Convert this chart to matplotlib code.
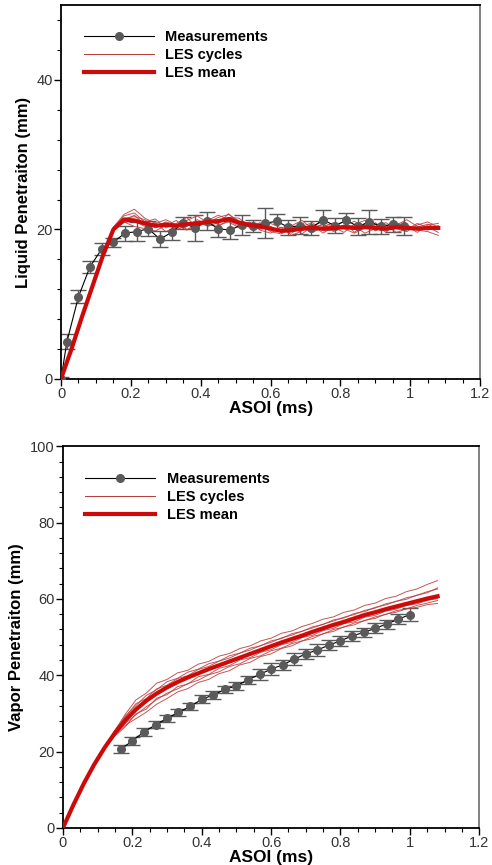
import numpy as np
import matplotlib
matplotlib.use("Agg")
import matplotlib.pyplot as plt
from matplotlib.ticker import MultipleLocator

plt.rcParams["font.family"] = ["Liberation Sans", "DejaVu Sans"]

# ---- liquid penetration (top) ----
liq_x = [0, 0.017, 0.05, 0.083, 0.117, 0.15, 0.183, 0.217, 0.25, 0.283, 0.317,
         0.35, 0.383, 0.417, 0.45, 0.483, 0.517, 0.55, 0.583, 0.617, 0.65,
         0.683, 0.717, 0.75, 0.783, 0.817, 0.85, 0.883, 0.917, 0.95, 0.983]
liq_y = [0, 5.0, 11.0, 15.0, 17.4, 18.3, 19.5, 19.7, 20.1, 18.7, 19.6,
         20.9, 20.2, 21.1, 20.1, 19.9, 20.6, 20.4, 20.8, 21.1, 20.3,
         20.5, 20.2, 21.3, 20.5, 21.2, 20.4, 21.0, 20.4, 20.7, 20.5]
liq_err = [0.3, 1.0, 0.9, 0.8, 0.8, 0.6, 1.0, 1.3, 1.0, 1.1, 1.0,
           0.8, 1.7, 1.2, 1.1, 1.2, 1.3, 0.8, 2.0, 1.0, 1.0,
           1.1, 0.9, 1.3, 1.0, 1.0, 1.1, 1.6, 1.0, 1.0, 1.2]

les_t = [0, .03, .06, .09, .12, .15, .18, .21, .24, .27, .30, .33, .36, .39,
         .42, .45, .48, .51, .54, .57, .60, .63, .66, .69, .72, .75, .78, .81,
         .84, .87, .90, .93, .96, .99, 1.02, 1.05, 1.08]

liq_mean = [0, 4.0, 8.3, 12.4, 16.5, 20.0, 21.3, 21.2, 20.8, 20.5, 20.6, 20.5, 20.7,
            20.8, 21.0, 21.1, 21.4, 20.9, 20.6, 20.4, 20.1, 19.8, 19.9, 20.1, 20.2,
            20.1, 20.2, 20.3, 20.2, 20.3, 20.2, 20.1, 20.3, 20.2, 20.1, 20.2, 20.2]
liq_c1 = [0, 4.1, 8.4, 12.5, 16.7, 20.3, 22.0, 22.7, 21.5, 20.8, 21.3, 20.6, 21.2,
          21.8, 20.9, 21.6, 22.0, 21.1, 20.3, 20.9, 20.4, 19.6, 20.5, 21.2, 20.0,
          20.8, 19.7, 20.4, 21.1, 20.2, 20.9, 19.8, 20.6, 21.3, 20.4, 19.9, 20.5]
liq_c2 = [0, 3.9, 8.1, 12.2, 16.3, 19.8, 21.0, 20.4, 20.1, 19.8, 20.5, 21.2, 20.0,
          20.4, 21.5, 20.6, 21.0, 20.2, 21.0, 19.9, 19.5, 20.3, 19.2, 19.8, 20.6,
          19.5, 20.4, 21.0, 19.6, 20.8, 19.8, 20.5, 19.6, 20.0, 20.8, 20.3, 19.6]
liq_c3 = [0, 4.0, 8.2, 12.3, 16.6, 20.2, 21.8, 22.2, 21.0, 21.4, 20.2, 20.8, 21.6,
          20.2, 21.2, 21.9, 21.3, 20.6, 20.9, 20.1, 20.8, 20.2, 20.6, 19.4, 20.5,
          21.0, 20.3, 19.6, 20.7, 21.2, 20.4, 20.9, 20.1, 19.7, 20.6, 21.0, 20.3]
liq_c4 = [0, 4.0, 8.3, 12.4, 16.4, 19.9, 20.9, 21.1, 20.4, 20.9, 19.7, 20.3, 20.6,
          21.1, 20.4, 20.9, 21.6, 21.5, 20.2, 20.6, 19.7, 19.4, 20.1, 20.7, 19.6,
          20.3, 20.9, 20.1, 19.5, 20.2, 20.7, 19.6, 20.9, 20.4, 19.6, 20.6, 20.8]
liq_c5 = [0, 4.1, 8.4, 12.5, 16.5, 20.1, 21.5, 21.7, 21.3, 20.2, 20.9, 20.0, 20.4,
          21.3, 20.6, 20.4, 21.2, 20.4, 20.8, 20.8, 20.0, 19.9, 19.5, 20.4, 20.9,
          19.8, 19.9, 20.6, 20.4, 19.5, 20.1, 20.6, 20.2, 20.6, 19.9, 19.7, 19.2]
liq_c6 = [0, 3.9, 8.2, 12.3, 16.5, 20.0, 21.2, 21.9, 20.6, 20.4, 21.0, 20.6, 19.9,
          20.9, 21.3, 20.8, 22.1, 20.7, 20.5, 20.0, 20.3, 19.8, 20.4, 20.0, 20.3,
          20.6, 20.0, 20.5, 20.0, 20.6, 19.9, 20.2, 20.5, 19.9, 20.3, 20.7, 20.0]
liq_cycles = [liq_c1, liq_c2, liq_c3, liq_c4, liq_c5, liq_c6]

# ---- vapor penetration (bottom) ----
vap_x = [0.167, 0.2, 0.233, 0.267, 0.3, 0.333, 0.367, 0.4, 0.433, 0.467, 0.5,
         0.533, 0.567, 0.6, 0.633, 0.667, 0.7, 0.733, 0.767, 0.8, 0.833,
         0.867, 0.9, 0.933, 0.967, 1.0]
vap_y = [20.6, 22.8, 25.1, 27.0, 28.7, 30.3, 31.8, 33.7, 34.8, 36.3, 37.2,
         38.8, 40.2, 41.6, 42.7, 44.2, 45.6, 46.6, 47.9, 49.0, 50.3,
         51.2, 52.3, 53.4, 54.7, 55.9]
vap_err = [1.0, 1.1, 1.0, 0.9, 0.9, 0.9, 1.0, 1.0, 1.0, 1.0, 1.0,
           1.1, 1.4, 1.6, 1.4, 1.5, 1.3, 1.6, 1.4, 1.3, 1.4,
           1.3, 1.3, 1.2, 1.4, 1.6]

vap_mean = [0, 6.0, 11.6, 16.6, 21.0, 24.9, 28.2, 31.0, 33.3, 35.2, 36.8, 38.2, 39.4,
            40.5, 41.6, 42.6, 43.6, 44.6, 45.6, 46.6, 47.6, 48.6, 49.5, 50.4, 51.4,
            52.3, 53.2, 54.0, 54.9, 55.8, 56.5, 57.3, 58.0, 58.7, 59.4, 60.1, 60.7]
vap_c1 = [0, 6.0, 11.6, 16.6, 21.1, 25.6, 29.8, 33.5, 35.3, 37.9, 38.9, 40.6, 41.3,
          42.9, 43.6, 45.0, 45.7, 47.0, 47.7, 49.0, 49.7, 51.0, 51.6, 52.8, 53.6,
          54.7, 55.3, 56.5, 57.1, 58.3, 58.9, 60.1, 60.7, 61.9, 62.6, 63.8, 64.8]
vap_c2 = [0, 6.0, 11.6, 16.6, 20.9, 24.3, 26.9, 28.6, 30.3, 32.4, 33.9, 35.6, 36.5,
          38.1, 38.9, 40.4, 41.2, 42.7, 43.4, 44.9, 45.6, 47.0, 47.7, 49.0, 49.6,
          50.9, 51.5, 52.7, 53.2, 54.4, 54.9, 56.0, 56.5, 57.4, 57.8, 58.5, 58.8]
vap_c3 = [0, 6.0, 11.6, 16.6, 21.0, 25.2, 29.1, 32.5, 33.9, 36.4, 37.4, 39.1, 39.9,
          41.5, 42.3, 43.7, 44.5, 45.8, 46.6, 47.8, 48.6, 49.8, 50.5, 51.6, 52.4,
          53.4, 54.2, 55.2, 55.9, 57.0, 57.6, 58.7, 59.3, 60.3, 60.9, 61.9, 62.6]
vap_c4 = [0, 6.0, 11.6, 16.6, 20.9, 24.6, 27.4, 29.6, 31.7, 33.6, 35.3, 36.4, 37.8,
          38.7, 40.1, 40.9, 42.3, 43.0, 44.4, 45.1, 46.4, 47.1, 48.3, 49.0, 50.2,
          50.8, 52.0, 52.6, 53.7, 54.3, 55.3, 55.9, 56.9, 57.4, 58.3, 58.9, 59.6]
vap_c5 = [0, 6.0, 11.6, 16.6, 21.1, 25.4, 29.3, 32.0, 34.7, 36.2, 38.3, 39.2, 40.8,
          41.6, 43.0, 43.7, 45.1, 45.8, 47.1, 47.7, 49.0, 49.6, 50.9, 51.5, 52.7,
          53.3, 54.5, 55.0, 56.2, 56.7, 57.8, 58.4, 59.4, 59.9, 61.0, 61.6, 62.9]
vap_c6 = [0, 6.0, 11.6, 16.6, 20.9, 24.1, 26.5, 29.9, 31.1, 34.0, 34.9, 37.0, 37.7,
          39.6, 40.2, 41.8, 42.5, 44.0, 44.6, 46.0, 46.7, 48.0, 48.6, 49.9, 50.5,
          51.7, 52.3, 53.5, 54.0, 55.2, 55.7, 56.8, 57.3, 58.3, 58.7, 59.6, 60.1]
vap_cycles = [vap_c1, vap_c2, vap_c3, vap_c4, vap_c5, vap_c6]

x_ticks = [0, 0.2, 0.4, 0.6, 0.8, 1, 1.2]
x_ticklabels = ["0", "0.2", "0.4", "0.6", "0.8", "1", "1.2"]

meas_col = "#5a5a5a"
cyc_col = "#b83a3a"
mean_col = "#cc0a0a"


def panel(ax, mx, my, me, cycles, mean, ymax, ymajor, ylabel):
    for c in cycles:
        ax.plot(les_t, c, color=cyc_col, lw=0.7, alpha=0.85, zorder=3)
    ax.plot([], [], color=cyc_col, lw=0.7, label="LES cycles")
    ax.errorbar(mx, my, yerr=me, fmt="none", ecolor=meas_col, elinewidth=1.0,
                capsize=6, capthick=1.0, zorder=2)
    ax.plot(mx, my, color="black", lw=0.8, marker="o", ms=5.5,
            mfc=meas_col, mec=meas_col, zorder=4, label="Measurements")
    ax.plot(les_t, mean, color=mean_col, lw=3, zorder=5, label="LES mean")

    ax.set_xlim(0, 1.2)
    ax.set_ylim(0, ymax)
    ax.set_xticks(x_ticks)
    ax.set_xticklabels(x_ticklabels)
    ax.xaxis.set_minor_locator(MultipleLocator(0.05))
    ax.yaxis.set_major_locator(MultipleLocator(ymajor))
    ax.yaxis.set_minor_locator(MultipleLocator(4))
    ax.tick_params(which="major", length=5, width=1, labelsize=10.5,
                   labelcolor="#333333", pad=1)
    ax.tick_params(which="minor", length=3, width=0.8)
    for s in ["left", "bottom", "top"]:
        ax.spines[s].set_linewidth(1.3)
    ax.spines["right"].set_color("#777777")
    ax.spines["right"].set_linewidth(1.3)

    ax.set_xlabel("ASOI (ms)", fontsize=12.5, fontweight="bold", labelpad=0)
    ax.set_ylabel(ylabel, fontsize=12, fontweight="bold", labelpad=4)

    h, l = ax.get_legend_handles_labels()
    order = [l.index("Measurements"), l.index("LES cycles"), l.index("LES mean")]
    ax.legend([h[i] for i in order], [l[i] for i in order],
              loc="upper left", bbox_to_anchor=(0.04, 0.948), frameon=False,
              handlelength=4.8, handletextpad=0.8, labelspacing=0.27,
              borderaxespad=0, prop={"weight": "bold", "size": 10.5})


fig = plt.figure(figsize=(4.92, 8.65), dpi=100)

ax1 = fig.add_axes([0.124, 0.562, 0.852, 0.432])
panel(ax1, liq_x, liq_y, liq_err, liq_cycles, liq_mean, 50, 20,
      "Liquid Penetraiton (mm)")

ax2 = fig.add_axes([0.128, 0.043, 0.846, 0.441])
panel(ax2, vap_x, vap_y, vap_err, vap_cycles, vap_mean, 100, 20,
      "Vapor Penetraiton (mm)")

fig.savefig("out.png", dpi=100)
